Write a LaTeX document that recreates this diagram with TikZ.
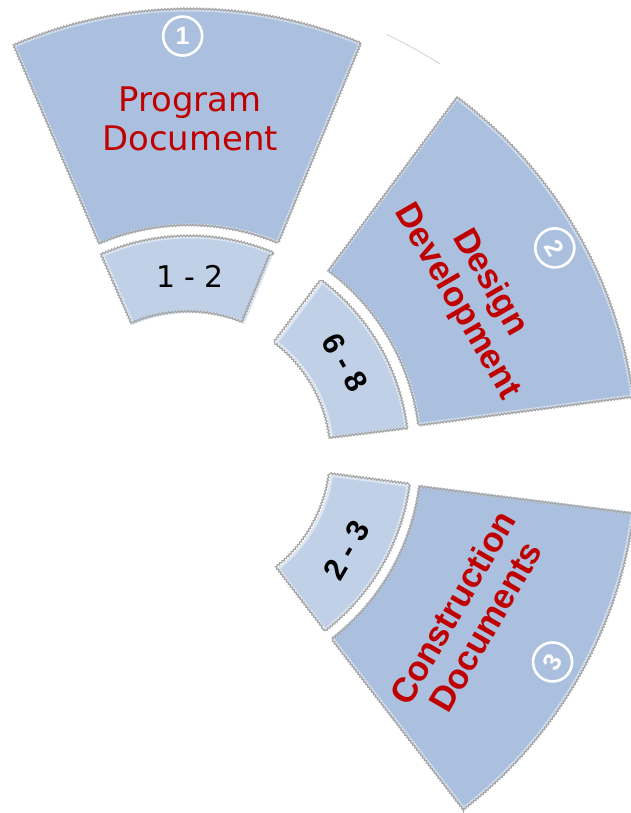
\documentclass[tikz,border=0pt]{standalone}
\usepackage{fontspec}
\setmainfont{DejaVu Sans}
\newfontfamily\boldsans{Liberation Sans}
\usetikzlibrary{decorations.pathmorphing}
\definecolor{bigfill}{RGB}{171,192,222}
\definecolor{smallfill}{RGB}{192,208,231}
\definecolor{edgegray}{RGB}{165,165,165}
\definecolor{txtred}{RGB}{192,0,0}
\tikzset{
  glowline/.style={white, opacity=0.45, line width=5bp},
  edgeline/.style={edgegray, line width=1.2bp, decorate,
    decoration={snake, segment length=3.2bp, amplitude=0.8bp}},
  bigtext/.style={align=center, text=txtred, inner sep=0,
    font=\fontsize{34}{39}\selectfont},
  boldtext/.style={align=center, text=txtred, inner sep=0,
    font=\boldsans\bfseries\fontsize{35}{38}\selectfont},
  numcircle/.style={circle, draw=white, line width=2.6bp, text=white,
    minimum size=39bp, inner sep=0, font=\boldsans\bfseries\fontsize{25}{25}\selectfont},
  rangelabel/.style={inner sep=0, font=\fontsize{30}{30}\selectfont},
  rangebold/.style={inner sep=0, font=\boldsans\bfseries\fontsize{31}{31}\selectfont},
  faintline/.style={gray!40, line width=0.7bp}
}
% #1 fill, #2 start angle, #3 end angle, #4 inner radius, #5 outer radius
\newcommand\sectorshape[5]{%
  \path[fill=#1] (#2:#5bp) arc[start angle=#2,end angle=#3,radius=#5bp]
    -- (#3:#4bp) arc[start angle=#3,end angle=#2,radius=#4bp] -- cycle;
  \draw[glowline] (#2:#5bp) arc[start angle=#2,end angle=#3,radius=#5bp]
    -- (#3:#4bp) arc[start angle=#3,end angle=#2,radius=#4bp] -- cycle;
  \draw[edgeline] (#2:#5bp) arc[start angle=#2,end angle=#3,radius=#5bp]
    -- (#3:#4bp) arc[start angle=#3,end angle=#2,radius=#4bp] -- cycle;
}
\begin{document}
\begin{tikzpicture}[x=1bp,y=1bp]
\useasboundingbox (0,0) rectangle (631,813);
\begin{scope}[shift={(190,357)}]
  % big sectors
  \sectorshape{bigfill}{67.5}{113.3}{230}{447}
  \sectorshape{bigfill}{7.6}{53.4}{230}{447}
  \sectorshape{bigfill}{-52.3}{-7.2}{230}{447}
  % small sectors
  \sectorshape{smallfill}{67.6}{113.8}{143}{220}
  \sectorshape{smallfill}{7}{53}{142}{219}
  \sectorshape{smallfill}{-52.4}{-7.4}{142}{221}
  % faint arc piece
  \draw[faintline] (65:465bp) arc[start angle=65,end angle=57.5,radius=465bp];
  % texts
  \node[bigtext] (prog) at (90:337bp) {Program\\Document};
  \node[boldtext, rotate=-60] (design) at (30:327bp) {Design\\Development};
  \node[boldtext, rotate=60] (constr) at (-30:322bp) {Construction\\Documents};
  \node[numcircle] (n1) at (91:420bp) {1};
  \node[numcircle, rotate=-60] (n2) at (29.7:420bp) {2};
  \node[numcircle, rotate=60] (n3) at (-29.6:417bp) {3};
  \node[rangelabel] (r1) at (90:180bp) {1 - 2};
  \node[rangebold, rotate=-60] (r2) at (31:181bp) {6 - 8};
  \node[rangebold, rotate=60] (r3) at (-31:183bp) {2 - 3};
\end{scope}
\end{tikzpicture}
\end{document}
